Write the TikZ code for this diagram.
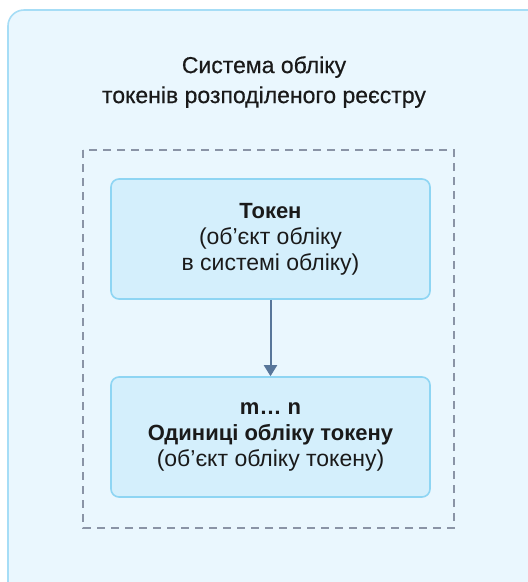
\documentclass[tikz,border=0pt]{standalone}
\usepackage{fontspec}
\setmainfont{Liberation Sans}
\newfontfamily\mediumfont[FakeBold=0.5]{Liberation Sans}
\usetikzlibrary{arrows.meta}
\definecolor{outerfill}{HTML}{EAF7FE}
\definecolor{outerdraw}{HTML}{A6DDF6}
\definecolor{boxfill}{HTML}{D4EFFC}
\definecolor{boxdraw}{HTML}{8ED5F3}
\definecolor{dashcol}{HTML}{8A94A6}
\definecolor{arrowcol}{HTML}{58769A}
\definecolor{txt}{HTML}{1A1A1A}
\newcommand{\bl}[1]{{\fontsize{22}{26}\selectfont\bfseries #1}}
\tikzset{
  entity/.style={draw=boxdraw, fill=boxfill, line width=1.6pt, rounded corners=8pt,
    minimum width=319pt, minimum height=120pt, align=center, text=txt,
    font=\fontsize{23}{26}\selectfont, inner sep=0pt},
  group/.style={draw=dashcol, line width=1.5pt, dash pattern=on 8pt off 6pt},
  link/.style={draw=arrowcol, line width=2pt, -{Triangle[width=13pt,length=11pt]}},
  titletext/.style={align=center, text=txt, font=\mediumfont\fontsize{23}{30}\selectfont}
}
\begin{document}
\begin{tikzpicture}[x=1pt,y=-1pt]
\useasboundingbox (0,0) rectangle (528,582);
\clip (0,0) rectangle (528,582);
\fill[white] (0,0) rectangle (528,582);
\draw[draw=outerdraw, fill=outerfill, line width=1.6pt, rounded corners=16pt] (8,10) rectangle (545,598);
\node[titletext] (title) at (264,82) {Система обліку\\токенів розподіленого реєстру};
\draw[group] (83,150) rectangle (454,528);
\node[entity] (tok) at (270.5,239) {\bl{Токен}\\(об’єкт обліку\\в системі обліку)};
\node[entity] (unit) at (270.5,437) {\bl{m… n}\\\bl{Одиниці обліку токену}\\(об’єкт обліку токену)};
\draw[link] (tok) -- (unit);
\end{tikzpicture}
\end{document}
